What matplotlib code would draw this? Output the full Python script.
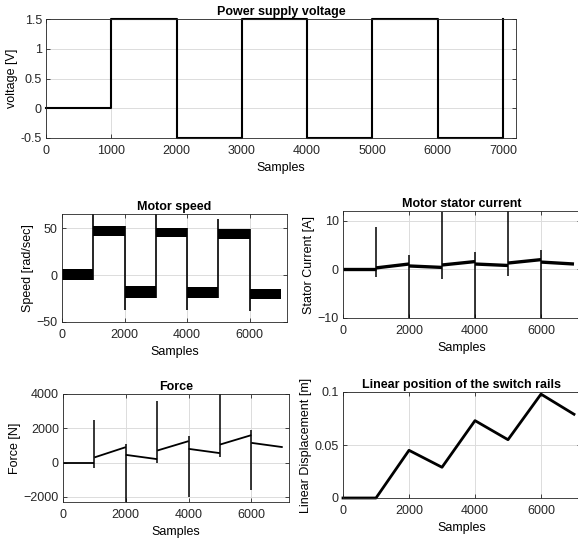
import numpy as np
import matplotlib
matplotlib.use("Agg")
from matplotlib import pyplot as plt

plt.rcParams['font.family'] = ['Liberation Sans', 'DejaVu Sans']
plt.rcParams['font.size'] = 9

# datos
edges = [0, 1000, 2000, 3000, 4000, 5000, 6000, 7000]

# tension de alimentacion (escalones)
volt = [0, 1.5, -0.5, 1.5, -0.5, 1.5, -0.5, 1.5]

# velocidad del motor: banda de ruido por tramo y picos en cada cambio
speed_lo = [-5, 42, -24, 40, -24, 38, -26]
speed_hi = [6, 52, -12, 50, -13, 49, -15]
speed_spike = [65, -37, 65, -37, 60, -38]

# corriente del estator
cur_start = [0.1, 0.3, 0.7, 0.9, 1.1, 1.3, 1.5]
cur_end = [0.1, 1.1, 0.4, 1.6, 0.8, 2.0, 1.1]
cur_hi = [8.7, 3.0, 11.7, 3.5, 12.0, 4.0]
cur_lo = [-1.5, -10.0, -2.0, -10.0, -1.3, -10.0]

# fuerza
force_start = [0, 300, 450, 700, 800, 1050, 1150]
force_end = [0, 900, 200, 1250, 550, 1600, 900]
force_hi = [2500, 1100, 3600, 1550, 4000, 1900]
force_lo = [-300, -2300, -50, -2000, 300, -1600]

# posicion lineal de los rieles
pos = [0, 0, 0.045, 0.029, 0.073, 0.055, 0.098, 0.079]


def tramos(ax, start, end, hi, lo, lw_base, lw_pico):
    # tramos continuos gruesos y picos finos en las transiciones
    for i in range(len(start)):
        ax.plot([edges[i], edges[i + 1]], [start[i], end[i]], color='k',
                linewidth=lw_base, solid_capstyle='butt')
    for i in range(len(hi)):
        x = edges[i + 1]
        ax.vlines(x, lo[i], hi[i], color='k', linewidth=lw_pico)


def estilo(ax, titulo, ylab):
    ax.set_title(titulo, fontweight='bold', fontsize=9, pad=3)
    ax.set_xlabel('Samples', labelpad=4)
    ax.set_ylabel(ylab, labelpad=2)
    ax.grid(True, color='#dcdcdc', linewidth=0.7)
    ax.set_axisbelow(True)
    ax.tick_params(direction='in', top=True, right=True, length=3,
                   colors='#262626', labelsize=9, width=0.6)
    ax.tick_params(axis='x', pad=5)
    ax.tick_params(axis='y', pad=3)
    for s in ax.spines.values():
        s.set_color('#262626')
        s.set_linewidth(0.6)


W, H = 578, 546
fig = plt.figure(figsize=(W / 100, H / 100), dpi=100)

def caja(l, r, t, b):
    return [l / W, 1 - b / H, (r - l) / W, (b - t) / H]

# tension
ax1 = fig.add_axes(caja(46, 516, 19, 138))
ax1.step(edges, volt, where='post', color='k', linewidth=1.5, clip_on=False)
ax1.set_xlim(0, 7200)
ax1.set_ylim(-0.5, 1.5)
ax1.set_xticks(edges)
ax1.set_yticks([-0.5, 0, 0.5, 1, 1.5])
ax1.set_yticklabels(['-0.5', '0', '0.5', '1', '1.5'])
estilo(ax1, 'Power supply voltage', 'voltage [V]')

# velocidad
ax2 = fig.add_axes(caja(62, 287, 214, 322))
for i in range(len(speed_lo)):
    ax2.fill_between([edges[i], edges[i + 1]], speed_lo[i], speed_hi[i],
                     color='k', linewidth=0)
for i in range(len(speed_spike)):
    ys = [speed_lo[i], speed_hi[i], speed_spike[i], speed_lo[i + 1], speed_hi[i + 1]]
    ax2.vlines(edges[i + 1], min(ys), max(ys), color='k', linewidth=1.2)
ax2.set_xlim(0, 7200)
ax2.set_ylim(-50, 65)
ax2.set_xticks([0, 2000, 4000, 6000])
ax2.set_yticks([-50, 0, 50])
estilo(ax2, 'Motor speed', 'Speed [rad/sec]')

# corriente
ax3 = fig.add_axes(caja(343, 580.6, 211, 318))
tramos(ax3, cur_start, cur_end, cur_hi, cur_lo, 2.4, 1.1)
ax3.set_xlim(0, 7200)
ax3.set_ylim(-10, 12)
ax3.set_xticks([0, 2000, 4000, 6000])
ax3.set_yticks([-10, 0, 10])
estilo(ax3, 'Motor stator current', 'Stator Current [A]')

# fuerza
ax4 = fig.add_axes(caja(63, 289, 394, 502))
tramos(ax4, force_start, force_end, force_hi, force_lo, 1.3, 1.1)
ax4.set_xlim(0, 7200)
ax4.set_ylim(-2300, 4000)
ax4.set_xticks([0, 2000, 4000, 6000])
ax4.set_yticks([-2000, 0, 2000, 4000])
estilo(ax4, 'Force', 'Force [N]')

# posicion
ax5 = fig.add_axes(caja(343, 580.6, 392, 498))
ax5.plot(edges, pos, color='k', linewidth=2, clip_on=False)
ax5.set_xlim(0, 7200)
ax5.set_ylim(0, 0.1)
ax5.set_xticks([0, 2000, 4000, 6000])
ax5.set_yticks([0, 0.05, 0.1])
ax5.set_yticklabels(['0', '0.05', '0.1'])
estilo(ax5, 'Linear position of the switch rails', 'Linear Displacement [m]')

fig.savefig('out.png', dpi=100)
